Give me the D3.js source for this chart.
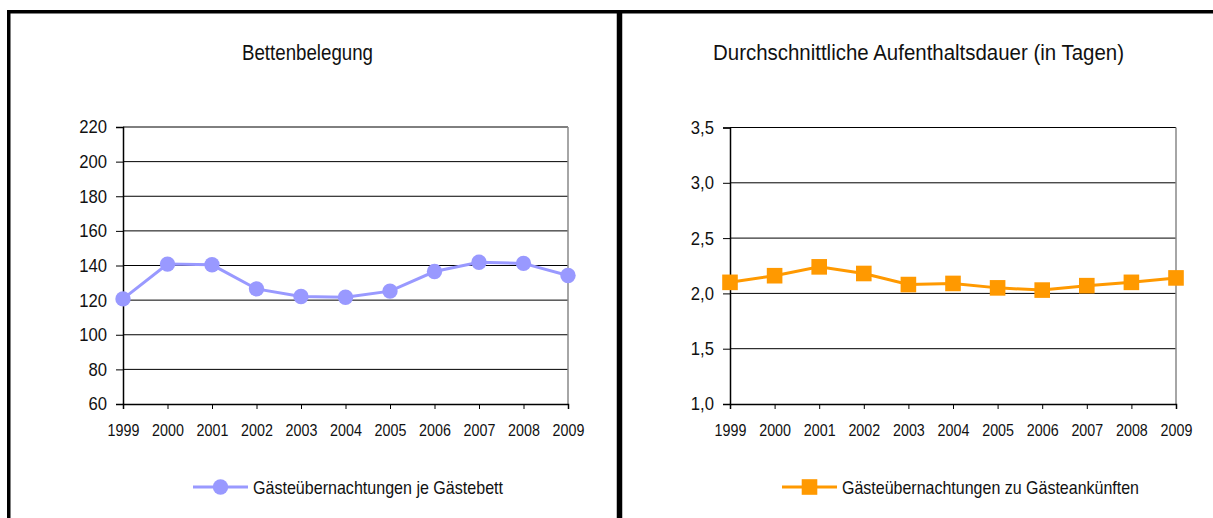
<!DOCTYPE html>
<html>
<head>
<meta charset="utf-8">
<script src="https://d3js.org/d3.v7.min.js"></script>
<style>
  body { margin: 0; background: #fff; }
  svg text { font-family: "Liberation Sans", Arial, sans-serif; fill: #111; }
</style>
</head>
<body>
<div id="chart"></div>
<script>
// data
const years = ["1999", "2000", "2001", "2002", "2003", "2004", "2005", "2006", "2007", "2008", "2009"];
const bedOccupancy = [120.7, 140.8, 140.4, 126.5, 122.1, 121.7, 125.2, 136.5, 141.9, 141.2, 134.2];
const avgStay = [2.10, 2.16, 2.24, 2.18, 2.08, 2.09, 2.05, 2.03, 2.07, 2.10, 2.14];
const bedTicks = [60, 80, 100, 120, 140, 160, 180, 200, 220];
const stayTicks = [1.0, 1.5, 2.0, 2.5, 3.0, 3.5];

const W = 1213, H = 518;
const svg = d3.select('#chart').append('svg')
    .attr('width', W)
    .attr('height', H);

const de = d3.formatLocale({ decimal: ",", thousands: ".", grouping: [3], currency: ["", " €"] });

// the original font is a narrow one, so squeeze the glyphs horizontally
function squeeze(sel, factor) {
    sel.each(function() {
        const len = this.getComputedTextLength();
        d3.select(this)
            .attr('textLength', len * factor)
            .attr('lengthAdjust', 'spacingAndGlyphs');
    });
}
function fitWidth(sel, w) {
    sel.attr('textLength', w).attr('lengthAdjust', 'spacingAndGlyphs');
}

function drawChart(opt) {
    const g = svg.append('g');
    const x = d3.scalePoint().domain(years).range([opt.left, opt.right]);
    const y = d3.scaleLinear().domain(opt.domain).range([opt.bottom, opt.top]);

    // title
    g.append('text')
        .attr('x', opt.titleX)
        .attr('y', 60)
        .attr('text-anchor', 'middle')
        .style('font-size', '22px')
        .text(opt.title)
        .call(fitWidth, opt.titleW);

    // gridlines
    g.selectAll('.grid')
        .data(opt.ticks.slice(1))
        .enter().append('line')
        .attr('x1', opt.left).attr('x2', opt.right)
        .attr('y1', d => y(d)).attr('y2', d => y(d))
        .attr('stroke', '#000').attr('stroke-width', 1);

    // right border of plot area
    g.append('line')
        .attr('x1', opt.right).attr('x2', opt.right)
        .attr('y1', opt.top).attr('y2', opt.bottom)
        .attr('stroke', '#888').attr('stroke-width', 1.5);

    const yAxis = d3.axisLeft(y)
        .tickValues(opt.ticks)
        .tickFormat(opt.fmt)
        .tickSize(7)
        .tickPadding(9);
    const ya = g.append('g')
        .attr('transform', 'translate(' + opt.left + ',0)')
        .call(yAxis);

    const xAxis = d3.axisBottom(x)
        .tickSize(5)
        .tickPadding(15);
    const xa = g.append('g')
        .attr('transform', 'translate(0,' + opt.bottom + ')')
        .call(xAxis);

    [ya, xa].forEach(a => {
        a.attr('font-family', null).attr('font-size', null);
        a.select('.domain').attr('stroke', '#000').attr('stroke-width', 1.5);
        a.selectAll('.tick line').attr('stroke', '#000');
        a.selectAll('.tick text').attr('fill', '#111');
    });
    ya.selectAll('.tick text').style('font-size', '18.5px').call(squeeze, 0.9);
    xa.selectAll('.tick text').style('font-size', '17px').call(squeeze, 0.84);

    const line = d3.line()
        .x((d, i) => x(years[i]))
        .y(d => y(d));
    g.append('path')
        .datum(opt.values)
        .attr('d', line)
        .attr('fill', 'none')
        .attr('stroke', opt.color)
        .attr('stroke-width', 3);

    opt.marker(g.selectAll('.pt').data(opt.values).enter(),
        (d, i) => x(years[i]), d => y(d));

    // legend
    const lg = g.append('g').attr('transform', 'translate(' + opt.legendX + ',487)');
    lg.append('line')
        .attr('x1', 0).attr('x2', 55)
        .attr('stroke', opt.color).attr('stroke-width', 3);
    opt.marker(lg.selectAll('.lm').data([0]).enter(), () => 27.5, () => 0);
    lg.append('text')
        .attr('x', 60)
        .attr('y', 7.3)
        .style('font-size', '19px')
        .text(opt.legend)
        .call(fitWidth, opt.legendW);
}

drawChart({
    title: 'Bettenbelegung',
    titleX: 307.5, titleW: 131,
    legend: 'Gästeübernachtungen je Gästebett',
    legendX: 193, legendW: 250,
    left: 123, right: 568, top: 127, bottom: 404,
    domain: [60, 220],
    ticks: bedTicks,
    fmt: d3.format('d'),
    values: bedOccupancy,
    color: '#9999ff',
    marker: (sel, fx, fy) => sel.append('circle')
        .attr('cx', fx).attr('cy', fy)
        .attr('r', 7.7)
        .attr('fill', '#9999ff')
});

drawChart({
    title: 'Durchschnittliche Aufenthaltsdauer (in Tagen)',
    titleX: 918.5, titleW: 411,
    legend: 'Gästeübernachtungen zu Gästeankünften',
    legendX: 782, legendW: 297,
    left: 730, right: 1176, top: 127.5, bottom: 404,
    domain: [1.0, 3.5],
    ticks: stayTicks,
    fmt: de.format('.1f'),
    values: avgStay,
    color: '#ff9900',
    marker: (sel, fx, fy) => sel.append('rect')
        .attr('x', (d, i) => fx(d, i) - 7.8).attr('y', (d, i) => fy(d, i) - 7.8)
        .attr('width', 15.6).attr('height', 15.6)
        .attr('fill', '#ff9900')
});

// panel frames
svg.append('line')
    .attr('x1', 7).attr('x2', W)
    .attr('y1', 11.75).attr('y2', 11.75)
    .attr('stroke', '#000').attr('stroke-width', 3.5);
svg.append('line')
    .attr('x1', 8.75).attr('x2', 8.75)
    .attr('y1', 10).attr('y2', H)
    .attr('stroke', '#000').attr('stroke-width', 3.5);
svg.append('line')
    .attr('x1', 619.5).attr('x2', 619.5)
    .attr('y1', 10).attr('y2', H)
    .attr('stroke', '#000').attr('stroke-width', 5.5);
</script>
</body>
</html>
